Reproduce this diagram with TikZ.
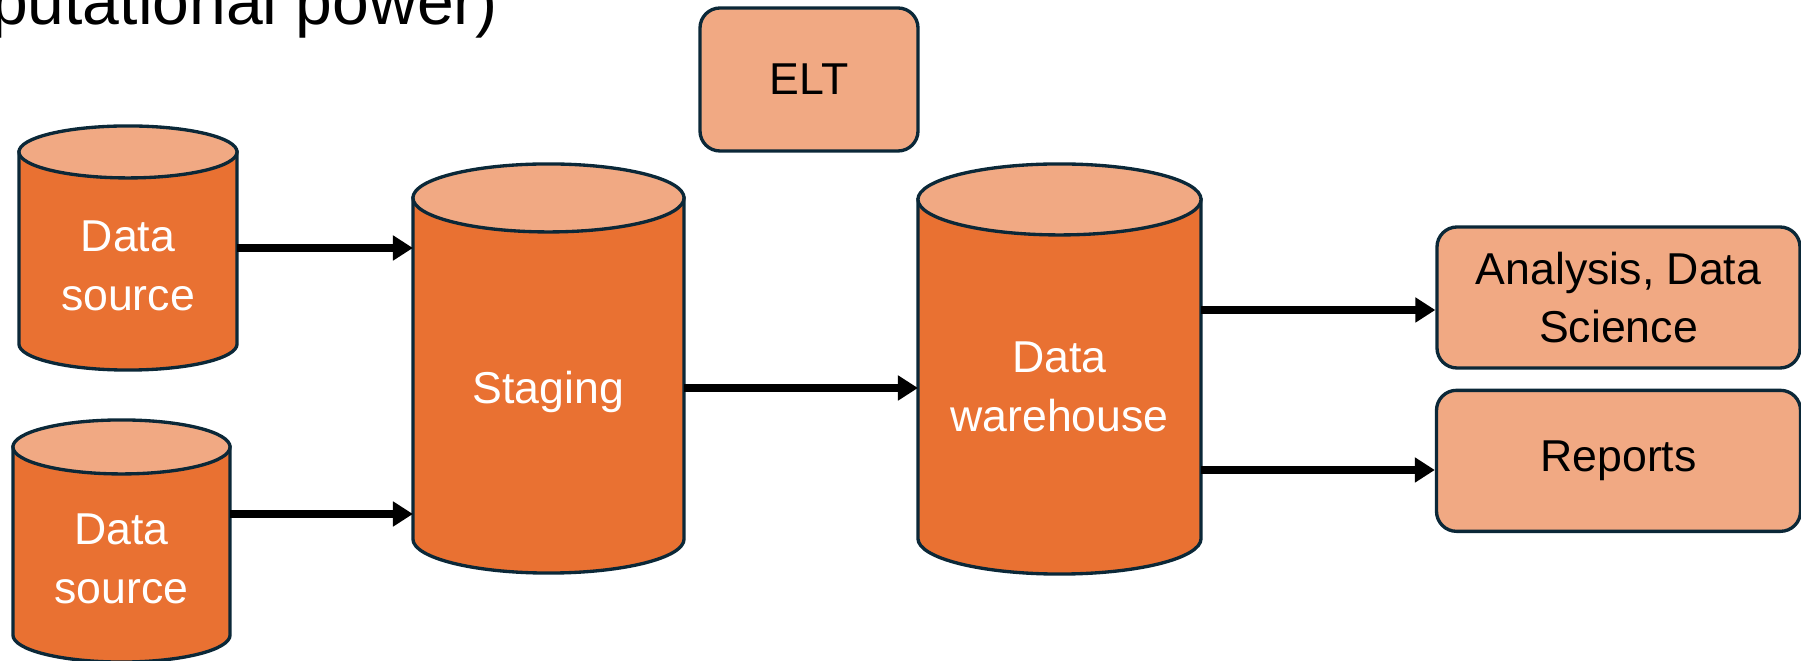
\documentclass[tikz,border=0pt]{standalone}
\usepackage{fontspec}
\setmainfont{Liberation Sans}
\usetikzlibrary{arrows.meta,positioning,calc,backgrounds}
\definecolor{body}{HTML}{E97132}
\definecolor{lid}{HTML}{F1A983}
\definecolor{rim}{HTML}{0B2838}

% drum outline behind a node: #1 node, #2 lid half height (cm)
\newcommand{\drum}[2]{%
  \path[draw=rim, line width=0.95pt, fill=body]
    let \p1=(#1.north west), \p2=(#1.south east), \n1={(\x2-\x1)/2} in
    (\x1,\y1-#2cm) -- (\x1,\y2+#2cm)
    arc[start angle=180, end angle=360, x radius=\n1, y radius=#2cm]
    -- (\x2,\y1-#2cm) -- cycle;
  \path[draw=rim, line width=0.95pt, fill=lid]
    let \p1=(#1.north west), \p2=(#1.south east), \n1={(\x2-\x1)/2} in
    (\x1+\n1,\y1-#2cm) ellipse [x radius=\n1, y radius=#2cm];
}

\begin{document}
\begin{tikzpicture}[semithick]
\tikzstyle{db}=[rectangle, inner sep=0pt]
\tikzstyle{lbl}=[text=white, align=center, yshift=-0.18cm, font=\fontsize{12.7}{16.8}\selectfont]
\tikzstyle{box}=[draw=rim, line width=0.95pt, fill=lid, rounded corners=0.2cm, align=center, inner sep=0pt, font=\fontsize{12.7}{16.5}\selectfont]
\tikzstyle{flow}=[-{Triangle[length=0.2cm,width=0.24cm]}, line width=2pt, black]

\useasboundingbox (0,0) rectangle (18.01,6.61);
\node[anchor=base east, inner sep=0pt, font=\fontsize{18.8}{22}\selectfont] (cap) at (4.99,6.36) {putational power)};

\node[db, minimum width=2.16cm, minimum height=2.42cm, label={[lbl]center:Data\\source}] (ds1) at (1.28,4.13) {};
\node[db, minimum width=2.15cm, minimum height=2.40cm, label={[lbl]center:Data\\source}] (ds2) at (1.215,1.20) {};
\node[db, minimum width=2.69cm, minimum height=4.07cm, label={[lbl, yshift=-0.05cm]center:Staging}] (stg) at (5.485,2.925) {};
\node[db, minimum width=2.81cm, minimum height=4.08cm, label={[lbl]center:Data\\warehouse}] (dw) at (10.595,2.92) {};

\begin{scope}[on background layer]
\foreach \nm/\rr in {ds1/0.26, ds2/0.27, stg/0.34, dw/0.355}
  \drum{\nm}{\rr};
\end{scope}

\node[box, minimum width=2.18cm, minimum height=1.43cm] (elt) at (8.09,5.815) {ELT};
\node[box, minimum width=3.63cm, minimum height=1.41cm] (ana) at (16.185,3.635) {Analysis, Data\\Science};
\node[box, minimum width=3.64cm, minimum height=1.41cm] (rep) [below=0.19cm of ana] {Reports};

\draw[flow] (ds1.east) -- (ds1.east -| stg.west);
\draw[flow] ([yshift=0.27cm]ds2.east) -- ([yshift=0.27cm]ds2.east -| stg.west);
\draw[flow] ([yshift=-0.195cm]stg.east) -- ([yshift=-0.195cm]stg.east -| dw.west);
\draw[flow] ([yshift=0.59cm]dw.east) -- ([yshift=0.59cm]dw.east -| ana.west);
\draw[flow] ([yshift=-1.01cm]dw.east) -- ([yshift=-1.01cm]dw.east -| rep.west);
\end{tikzpicture}
\end{document}
